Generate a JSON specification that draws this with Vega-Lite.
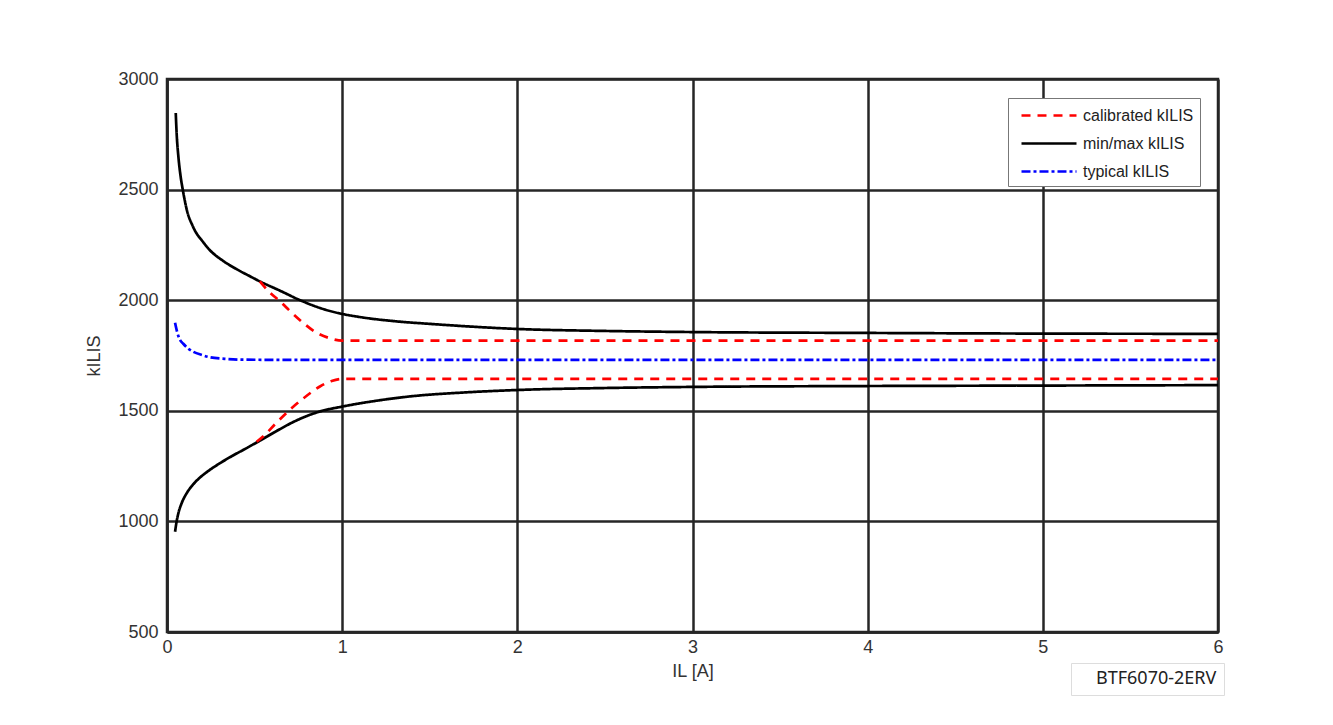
{
  "$schema": "https://vega.github.io/schema/vega-lite/v6.json",
  "width": 1051,
  "height": 553,
  "autosize": "none",
  "padding": {"left": 167, "top": 79, "right": 115, "bottom": 93},
  "background": "white",
  "config": {
    "font": "Liberation Sans",
    "view": {"stroke": "#262626", "strokeWidth": 2.5},
    "axis": {"labelFont": "Liberation Sans", "titleFont": "Liberation Sans", "labelColor": "#333", "titleColor": "#333", "labelFontSize": 18, "titleFontSize": 18, "titleFontWeight": "normal", "gridColor": "#262626", "gridWidth": 2.5, "gridOpacity": 1, "domainColor": "#262626", "domainWidth": 2.5, "ticks": false}
  },
  "data": {"values": [
    {"curve": "max", "series": "min/max", "I": 0.05, "k": 2846},
    {"curve": "max", "series": "min/max", "I": 0.055, "k": 2755},
    {"curve": "max", "series": "min/max", "I": 0.065, "k": 2649},
    {"curve": "max", "series": "min/max", "I": 0.078, "k": 2558},
    {"curve": "max", "series": "min/max", "I": 0.09, "k": 2500},
    {"curve": "max", "series": "min/max", "I": 0.112, "k": 2412},
    {"curve": "max", "series": "min/max", "I": 0.15, "k": 2330},
    {"curve": "max", "series": "min/max", "I": 0.207, "k": 2262},
    {"curve": "max", "series": "min/max", "I": 0.245, "k": 2226},
    {"curve": "max", "series": "min/max", "I": 0.32, "k": 2178},
    {"curve": "max", "series": "min/max", "I": 0.398, "k": 2140},
    {"curve": "max", "series": "min/max", "I": 0.474, "k": 2108},
    {"curve": "max", "series": "min/max", "I": 0.53, "k": 2085},
    {"curve": "max", "series": "min/max", "I": 0.645, "k": 2043},
    {"curve": "max", "series": "min/max", "I": 0.76, "k": 2000},
    {"curve": "max", "series": "min/max", "I": 0.873, "k": 1965},
    {"curve": "max", "series": "min/max", "I": 1.0, "k": 1938},
    {"curve": "max", "series": "min/max", "I": 1.1, "k": 1924},
    {"curve": "max", "series": "min/max", "I": 1.3, "k": 1905},
    {"curve": "max", "series": "min/max", "I": 1.5, "k": 1893},
    {"curve": "max", "series": "min/max", "I": 2.0, "k": 1870},
    {"curve": "max", "series": "min/max", "I": 2.5, "k": 1861},
    {"curve": "max", "series": "min/max", "I": 3.0, "k": 1856},
    {"curve": "max", "series": "min/max", "I": 4.0, "k": 1852},
    {"curve": "max", "series": "min/max", "I": 5.0, "k": 1849},
    {"curve": "max", "series": "min/max", "I": 6.0, "k": 1848},
    {"curve": "min", "series": "min/max", "I": 0.046, "k": 953},
    {"curve": "min", "series": "min/max", "I": 0.055, "k": 1000},
    {"curve": "min", "series": "min/max", "I": 0.065, "k": 1037},
    {"curve": "min", "series": "min/max", "I": 0.085, "k": 1085},
    {"curve": "min", "series": "min/max", "I": 0.112, "k": 1127},
    {"curve": "min", "series": "min/max", "I": 0.15, "k": 1168},
    {"curve": "min", "series": "min/max", "I": 0.188, "k": 1198},
    {"curve": "min", "series": "min/max", "I": 0.25, "k": 1236},
    {"curve": "min", "series": "min/max", "I": 0.3, "k": 1262},
    {"curve": "min", "series": "min/max", "I": 0.37, "k": 1295},
    {"curve": "min", "series": "min/max", "I": 0.435, "k": 1323},
    {"curve": "min", "series": "min/max", "I": 0.53, "k": 1365},
    {"curve": "min", "series": "min/max", "I": 0.62, "k": 1406},
    {"curve": "min", "series": "min/max", "I": 0.72, "k": 1449},
    {"curve": "min", "series": "min/max", "I": 0.8, "k": 1477},
    {"curve": "min", "series": "min/max", "I": 0.873, "k": 1497},
    {"curve": "min", "series": "min/max", "I": 1.0, "k": 1519},
    {"curve": "min", "series": "min/max", "I": 1.2, "k": 1546},
    {"curve": "min", "series": "min/max", "I": 1.387, "k": 1565},
    {"curve": "min", "series": "min/max", "I": 1.7, "k": 1583},
    {"curve": "min", "series": "min/max", "I": 2.0, "k": 1594},
    {"curve": "min", "series": "min/max", "I": 2.5, "k": 1603},
    {"curve": "min", "series": "min/max", "I": 3.0, "k": 1608},
    {"curve": "min", "series": "min/max", "I": 4.0, "k": 1612},
    {"curve": "min", "series": "min/max", "I": 5.0, "k": 1614},
    {"curve": "min", "series": "min/max", "I": 6.0, "k": 1616},
    {"curve": "cal_hi", "series": "calibrated", "I": 0.53, "k": 2085},
    {"curve": "cal_hi", "series": "calibrated", "I": 0.58, "k": 2040},
    {"curve": "cal_hi", "series": "calibrated", "I": 0.645, "k": 1995},
    {"curve": "cal_hi", "series": "calibrated", "I": 0.71, "k": 1945},
    {"curve": "cal_hi", "series": "calibrated", "I": 0.778, "k": 1897},
    {"curve": "cal_hi", "series": "calibrated", "I": 0.85, "k": 1855},
    {"curve": "cal_hi", "series": "calibrated", "I": 0.93, "k": 1828},
    {"curve": "cal_hi", "series": "calibrated", "I": 1.0, "k": 1817},
    {"curve": "cal_hi", "series": "calibrated", "I": 6.0, "k": 1817},
    {"curve": "cal_lo", "series": "calibrated", "I": 0.512, "k": 1360},
    {"curve": "cal_lo", "series": "calibrated", "I": 0.55, "k": 1385},
    {"curve": "cal_lo", "series": "calibrated", "I": 0.62, "k": 1442},
    {"curve": "cal_lo", "series": "calibrated", "I": 0.7, "k": 1504},
    {"curve": "cal_lo", "series": "calibrated", "I": 0.778, "k": 1556},
    {"curve": "cal_lo", "series": "calibrated", "I": 0.873, "k": 1610},
    {"curve": "cal_lo", "series": "calibrated", "I": 0.94, "k": 1635},
    {"curve": "cal_lo", "series": "calibrated", "I": 1.0, "k": 1644},
    {"curve": "cal_lo", "series": "calibrated", "I": 6.0, "k": 1644},
    {"curve": "typ", "series": "typical", "I": 0.046, "k": 1898},
    {"curve": "typ", "series": "typical", "I": 0.06, "k": 1850},
    {"curve": "typ", "series": "typical", "I": 0.075, "k": 1820},
    {"curve": "typ", "series": "typical", "I": 0.093, "k": 1803},
    {"curve": "typ", "series": "typical", "I": 0.12, "k": 1782},
    {"curve": "typ", "series": "typical", "I": 0.15, "k": 1767},
    {"curve": "typ", "series": "typical", "I": 0.2, "k": 1752},
    {"curve": "typ", "series": "typical", "I": 0.245, "k": 1742},
    {"curve": "typ", "series": "typical", "I": 0.33, "k": 1735},
    {"curve": "typ", "series": "typical", "I": 0.435, "k": 1731},
    {"curve": "typ", "series": "typical", "I": 1.0, "k": 1730},
    {"curve": "typ", "series": "typical", "I": 6.0, "k": 1730}
  ]},
  "mark": {"type": "line", "strokeWidth": 2.7, "interpolate": "monotone", "clip": true},
  "encoding": {
    "x": {"field": "I", "type": "quantitative", "scale": {"domain": [0, 6], "nice": false},
      "axis": {"values": [0, 1, 2, 3, 4, 5, 6], "format": "d", "title": "IL [A]", "labelPadding": 6, "titlePadding": 6, "labelFlush": false}},
    "y": {"field": "k", "type": "quantitative", "scale": {"domain": [500, 3000], "nice": false, "zero": false},
      "axis": {"values": [500, 1000, 1500, 2000, 2500, 3000], "format": "d", "title": "kILIS", "labelPadding": 9, "titlePadding": 14, "labelFlush": false}},
    "detail": {"field": "curve"},
    "color": {"field": "series", "type": "nominal",
      "scale": {"domain": ["calibrated", "min/max", "typical"], "range": ["#ff0000", "#000000", "#0000ff"]},
      "legend": {"title": null, "orient": "none", "legendX": 841, "legendY": 19, "labelExpr": "datum.label + ' kILIS'", "symbolType": "M-0.4,0H5.1", "symbolSize": 400, "symbolStrokeWidth": 2.5, "labelFontSize": 16, "labelFont": "Liberation Sans", "labelColor": "#222", "rowPadding": 8, "padding": 6, "strokeColor": "#777", "fillColor": "white", "labelOffset": 46}},
    "strokeDash": {"field": "series", "type": "nominal",
      "scale": {"domain": ["calibrated", "min/max", "typical"], "range": [[9, 7], [1, 0], [9, 3, 3, 3]]},
      "legend": {"title": null, "orient": "none", "legendX": 841, "legendY": 19, "labelExpr": "datum.label + ' kILIS'", "symbolType": "M-0.4,0H5.1", "symbolSize": 400, "symbolStrokeWidth": 2.5, "labelFontSize": 16, "labelFont": "Liberation Sans", "labelColor": "#222", "rowPadding": 8, "padding": 6, "strokeColor": "#777", "fillColor": "white", "labelOffset": 46}},
    "opacity": {"datum": "BTF6070-2ERV", "type": "nominal", "scale": {"range": [1]},
      "legend": {"title": null, "orient": "none", "legendX": 904, "legendY": 584, "symbolSize": 256, "symbolOpacity": 0, "symbolStrokeWidth": 0, "labelOffset": 0, "labelLimit": 400, "labelExpr": "datum.label + '\u00a0\u00a0\u00a0\u00a0\u00a0\u00a0'", "labelFontSize": 18, "labelFont": "Noto Sans", "labelColor": "#222", "padding": 7, "strokeColor": "#ddd", "fillColor": "white"}}
  }
}
